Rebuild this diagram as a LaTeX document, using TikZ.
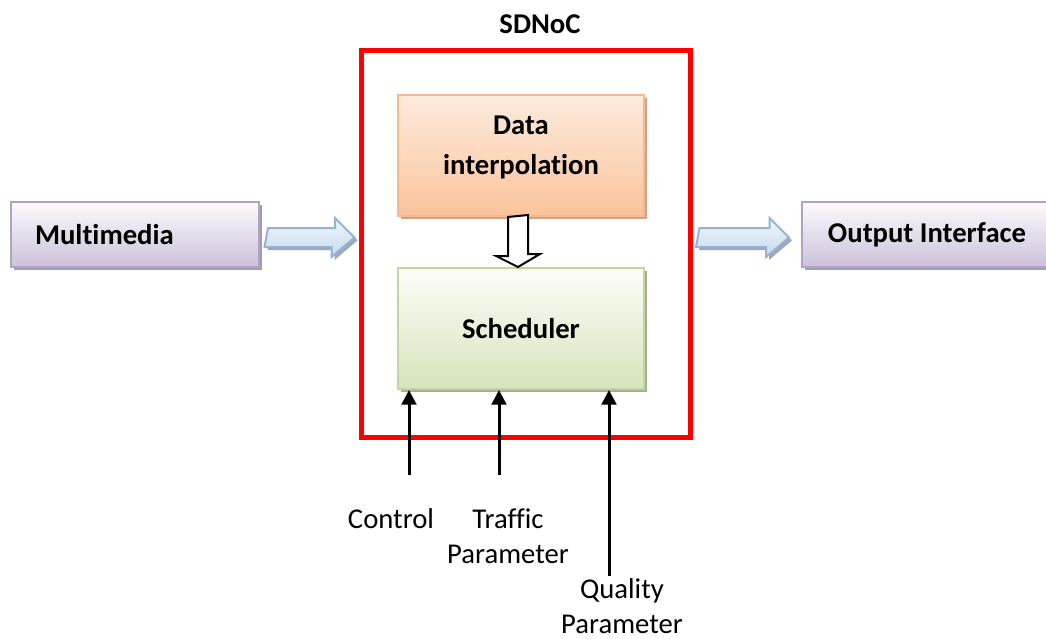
\documentclass[tikz,border=0pt]{standalone}
\usepackage{fontspec}
\setmainfont{Carlito}[Ligatures=NoCommon]
\usetikzlibrary{calc,shadows,arrows.meta}
\definecolor{peachtop}{HTML}{FDEBDD}
\definecolor{peachbot}{HTML}{FAC39B}
\definecolor{peachline}{HTML}{F6B88C}
\definecolor{peachshade}{HTML}{CDA489}
\definecolor{greentop}{HTML}{FCFDF8}
\definecolor{greenbot}{HTML}{D7E4BD}
\definecolor{greenline}{HTML}{C3D69B}
\definecolor{greenshade}{HTML}{A7AE97}
\definecolor{lilactop}{HTML}{FCFBFE}
\definecolor{lilacbot}{HTML}{CCC1DA}
\definecolor{lilacline}{HTML}{B3A2C7}
\definecolor{lilacshade}{HTML}{A39BAE}
\definecolor{bluetop}{HTML}{F2F6FB}
\definecolor{bluebot}{HTML}{C6D9F0}
\definecolor{blueline}{HTML}{95B3D7}
\definecolor{blueshade}{HTML}{A0A8B4}

\begin{document}
\begin{tikzpicture}[x=0.75pt,y=-0.75pt,
  box/.style={draw,line width=1.5pt,font=\bfseries\fontsize{21.5}{26}\selectfont,align=center,inner sep=0pt},
  databox/.style={box,draw=peachline,top color=peachtop,bottom color=peachbot,
    minimum width=184.5pt,minimum height=90.75pt,
    drop shadow={shadow xshift=2.25pt,shadow yshift=-2.25pt,fill=peachshade,opacity=1}},
  schedbox/.style={box,draw=greenline,top color=greentop,bottom color=greenbot,
    minimum width=184.5pt,minimum height=90.75pt,
    drop shadow={shadow xshift=2.25pt,shadow yshift=-2.25pt,fill=greenshade,opacity=1}},
  iobox/.style={box,draw=lilacline,top color=lilactop,bottom color=lilacbot,
    minimum height=48.75pt,
    drop shadow={shadow xshift=2.25pt,shadow yshift=-2.25pt,fill=lilacshade,opacity=1}},
  fatarrow/.style={draw=blueline,line width=1.5pt,line join=miter,top color=bluetop,bottom color=bluebot,
    drop shadow={shadow xshift=2.25pt,shadow yshift=-2.25pt,fill=blueshade,opacity=1}},
  hollow/.style={draw=black,line width=1.5pt,fill=white,line join=miter},
  sig/.style={line width=2.25pt,-{Triangle[width=11pt,length=11pt]}},
  lbl/.style={font=\fontsize{21.5}{26}\selectfont,align=center,inner sep=0pt}]
\useasboundingbox (0,0) rectangle (1046,639);

% SDNoC frame
\node[draw=red,line width=3.75pt,minimum width=246.75pt,minimum height=290.25pt] (frame) at (525.5,243.5) {};
\node[lbl,font=\bfseries\fontsize{21.5}{26}\selectfont] (title) at (540,24) {SDNoC};

% blocks
\node[databox] (data) at (521,155.5) {};
\node[lbl,font=\bfseries\fontsize{21.5}{30}\selectfont] (datatxt) at ($(data.center)+(0,-8.5)$) {Data\\interpolation};
\node[schedbox] (sched) at (521,328.5) {Scheduler};
\node[iobox,minimum width=186pt,text width=150pt,align=left] (media) at (135,234.5) {Multimedia};
\node[iobox,minimum width=187.5pt] (outif) at (927,234.5) {Output Interface};

% fat arrows in and out
\draw[fatarrow] ($(media.east)+(8,-6.5)$) -- ++(67,0) -- ++(0,-10)
  -- ($(frame.west|-media.east)+(-4,3)$) -- ++(-23,19.5) -- ++(0,-10) -- ++(-67,0) -- cycle;
\draw[fatarrow] ($(frame.east|-outif.west)+(7,-6.5)$) -- ++(70,0) -- ++(0,-10)
  -- ($(outif.west)+(-12,3)$) -- ++(-23,19.5) -- ++(0,-10) -- ++(-70,0) -- cycle;

% hollow arrow data -> scheduler
\draw[hollow] ($(data.south)+(-13,0)$) -- ++(0,39) -- ++(-12,0)
  -- ($(sched.north)+(-3,0)$) -- ++(22,-13) -- ++(-12,0) -- ++(0,-39) -- cycle;

% inputs to scheduler
\coordinate (ctlin) at (409,475);
\coordinate (trfin) at (499,475);
\coordinate (qtyin) at (609,576);
\foreach \c in {ctlin,trfin,qtyin}
  \draw[sig] (\c) -- (\c|-sched.south);

\node[lbl] (ctllbl) at (391,519) {Control};
\node[lbl] (trflbl) at (508,536.5) {Traffic\\Parameter};
\node[lbl] (qtylbl) at (622,606) {Quality\\Parameter};
\end{tikzpicture}
\end{document}
